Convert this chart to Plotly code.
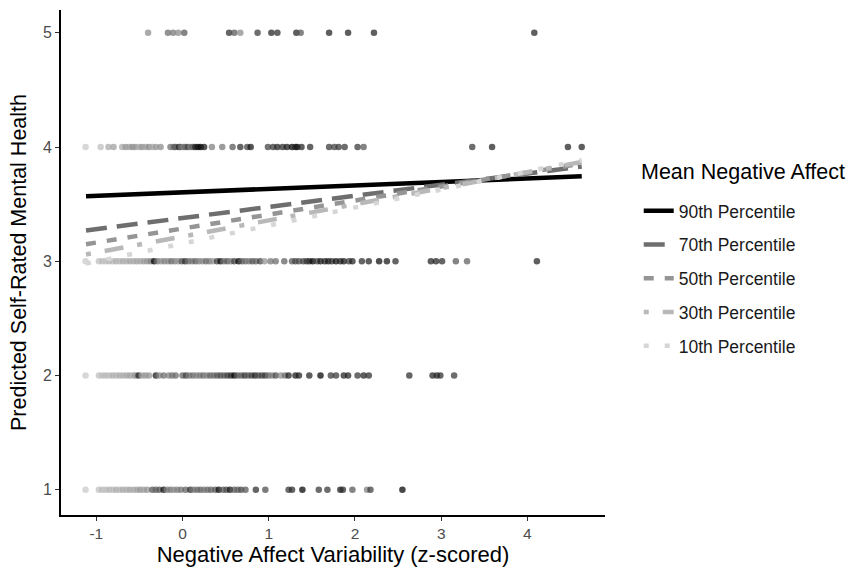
import plotly.graph_objects as go

# ---------------- data ----------------
# observed points per response level: x (z-scored NA variability) and shade (mean NA, 0=low,1=high)
x_lvl5 = [-0.40, -0.17, -0.11, -0.05, 0.02, 0.54, 0.60, 0.67, 0.87, 1.03, 1.10, 1.32, 1.37, 1.70, 1.92, 2.22, 4.08]
s_lvl5 = [0.35, 0.5, 0.45, 0.35, 0.6, 0.8, 0.6, 0.35, 0.75, 0.85, 0.8, 0.85, 0.6, 0.85, 0.85, 0.85, 0.85]

x_lvl4 = [-1.125, -0.95, -0.86, -0.80, -0.70, -0.66, -0.62, -0.58, -0.545, -0.50, -0.47, -0.43, -0.39,
          -0.35, -0.31, -0.255, -0.14, -0.10, -0.08, -0.04, -0.02, 0.01, 0.03, 0.06, 0.09, 0.12, 0.15,
          0.18, 0.21, 0.25, 0.34, 0.46, 0.58, 0.67, 0.75, 0.79, 0.99, 1.05, 1.10, 1.16, 1.21, 1.27,
          1.31, 1.33, 1.38, 1.48, 1.70, 1.76, 1.81, 1.88, 2.03, 2.10, 3.36, 3.59, 4.47, 4.63]
s_lvl4 = [0.05, 0.1, 0.2, 0.25, 0.2, 0.3, 0.25, 0.35, 0.3, 0.2, 0.3, 0.25, 0.35, 0.2, 0.3, 0.35, 0.5,
          0.55, 0.6, 0.85, 0.5, 0.4, 0.5, 0.7, 0.45, 0.6, 0.9, 0.95, 1.0, 0.9, 0.4, 0.45, 0.6, 0.8,
          0.7, 0.9, 0.7, 0.75, 0.85, 0.8, 0.9, 1.0, 0.85, 0.95, 0.85, 0.8, 0.75, 0.7, 0.75, 0.75,
          0.75, 0.6, 0.75, 0.85, 0.85, 0.85]

x_lvl3 = [-1.125, -0.97, -0.93, -0.89, -0.85, -0.81, -0.77, -0.73, -0.69, -0.65, -0.61, -0.57, -0.53,
          -0.49, -0.45, -0.41, -0.37, -0.33, -0.29, -0.25, -0.21, -0.17, -0.13, -0.09, -0.05, -0.01,
          0.03, 0.07, 0.11, 0.15, 0.19, 0.23, 0.27, 0.31, 0.35, 0.40, 0.44, 0.48, 0.52, 0.56, 0.60,
          0.65, 0.69, 0.73, 0.77, 0.81, 0.85, 0.90, 0.95, 1.02, 1.08, 1.18, 1.27, 1.31, 1.35, 1.40,
          1.44, 1.47, 1.51, 1.56, 1.60, 1.65, 1.69, 1.73, 1.78, 1.83, 1.87, 1.93, 1.97, 2.08, 2.16,
          2.28, 2.37, 2.47, 2.88, 2.94, 3.01, 3.17, 3.30, 4.11]
s_lvl3 = [0.05, 0.1, 0.12, 0.1, 0.15, 0.12, 0.18, 0.15, 0.2, 0.18, 0.22, 0.2, 0.25, 0.22, 0.28, 0.3,
          0.4, 1.0, 0.45, 0.3, 0.4, 0.35, 0.5, 0.4, 0.3, 0.6, 0.8, 0.5, 0.45, 0.55, 0.4, 0.35, 0.5,
          0.45, 0.3, 0.7, 0.95, 0.5, 0.6, 0.4, 0.7, 1.0, 0.6, 0.5, 0.45, 0.6, 0.55, 0.7, 0.3, 0.45,
          0.5, 0.55, 0.6, 0.7, 0.65, 0.7, 0.75, 0.8, 1.0, 0.7, 0.9, 0.85, 0.9, 0.8, 0.95, 0.85, 0.9,
          0.75, 0.85, 0.8, 0.85, 0.95, 0.9, 0.8, 0.85, 0.85, 0.8, 0.6, 0.55, 0.85]

x_lvl2 = [-1.125, -0.97, -0.93, -0.89, -0.85, -0.81, -0.77, -0.73, -0.69, -0.65, -0.61, -0.57, -0.545,
          -0.51, -0.47, -0.43, -0.39, -0.31, -0.27, -0.22, -0.16, -0.12, -0.08, 0.00, 0.04, 0.08, 0.12,
          0.16, 0.20, 0.24, 0.28, 0.32, 0.36, 0.40, 0.44, 0.48, 0.52, 0.56, 0.60, 0.64, 0.68, 0.72,
          0.76, 0.80, 0.84, 0.88, 0.92, 0.96, 1.00, 1.04, 1.08, 1.14, 1.19, 1.23, 1.31, 1.35, 1.47,
          1.60, 1.72, 1.78, 1.87, 1.92, 2.03, 2.10, 2.16, 2.63, 2.90, 2.95, 2.99, 3.15]
s_lvl2 = [0.05, 0.1, 0.12, 0.15, 0.12, 0.18, 0.15, 0.2, 0.18, 0.22, 0.25, 0.2, 0.3, 0.85, 0.25, 0.3,
          0.3, 0.9, 0.35, 0.5, 0.4, 0.45, 0.5, 0.55, 0.7, 0.45, 0.5, 0.4, 0.45, 0.5, 0.4, 0.55, 0.5,
          0.6, 0.65, 0.6, 0.7, 0.8, 1.0, 0.6, 0.55, 0.75, 0.6, 0.7, 0.85, 0.65, 0.7, 0.75, 0.5, 0.4,
          0.65, 0.35, 0.5, 0.85, 0.9, 0.85, 0.85, 1.0, 0.75, 0.75, 0.85, 0.85, 0.75, 0.85, 0.8, 0.8,
          0.85, 0.85, 0.8, 0.75]

x_lvl1 = [-1.125, -0.97, -0.93, -0.89, -0.85, -0.81, -0.77, -0.73, -0.69, -0.65, -0.61, -0.57, -0.53,
          -0.49, -0.45, -0.41, -0.35, -0.31, -0.27, -0.22, -0.18, -0.14, -0.10, -0.06, -0.02, 0.035,
          0.09, 0.13, 0.17, 0.21, 0.25, 0.29, 0.33, 0.38, 0.42, 0.47, 0.51, 0.55, 0.60, 0.64, 0.68,
          0.73, 0.85, 0.96, 1.23, 1.27, 1.39, 1.58, 1.68, 1.83, 1.86, 1.97, 2.14, 2.18, 2.55]
s_lvl1 = [0.05, 0.1, 0.12, 0.1, 0.15, 0.12, 0.18, 0.15, 0.2, 0.18, 0.22, 0.2, 0.25, 0.3, 0.25, 0.3,
          0.6, 0.55, 0.6, 0.95, 0.4, 0.45, 0.35, 0.4, 0.45, 0.55, 0.8, 0.45, 0.5, 0.55, 0.45, 0.5,
          0.55, 0.6, 0.95, 0.6, 0.65, 0.9, 0.6, 0.55, 0.65, 0.6, 0.8, 0.65, 0.75, 0.8, 1.0, 0.75,
          0.75, 0.9, 0.8, 0.6, 0.4, 0.7, 1.0]

levels = [1, 2, 3, 4, 5]
x_by_level = [x_lvl1, x_lvl2, x_lvl3, x_lvl4, x_lvl5]
s_by_level = [s_lvl1, s_lvl2, s_lvl3, s_lvl4, s_lvl5]

# predicted lines (start / end of fitted slope per percentile)
legend_title = "Mean Negative Affect"
line_names = ["90th Percentile", "70th Percentile", "50th Percentile", "30th Percentile", "10th Percentile"]
line_x = [-1.12, 4.63]
line_y90 = [3.57, 3.745]
line_y70 = [3.27, 3.83]
line_y50 = [3.15, 3.855]
line_y30 = [3.06, 3.87]
line_y10 = [2.98, 3.885]
line_ys = [line_y90, line_y70, line_y50, line_y30, line_y10]

x_ticks = [-1, 0, 1, 2, 3, 4]
y_ticks = [1, 2, 3, 4, 5]

# ---------------- styling ----------------
line_colors = ["#000000", "#6e6e6e", "#959595", "#b8b8b8", "#d6d6d6"]
line_dashes = ["solid", "21px,10px", "10px,11px", "5px,14px,19px,14px", "5px,16px"]
FONT = "Liberation Sans, Arial, Helvetica, sans-serif"

fig = go.Figure()

for lvl, xs, ss in zip(levels, x_by_level, s_by_level):
    fig.add_trace(go.Scatter(
        x=xs, y=[lvl] * len(xs), mode="markers", showlegend=False, hoverinfo="skip",
        marker=dict(size=6.5, color=ss, cmin=0, cmax=1,
                    colorscale=[[0, "#d2d2d2"], [1, "#000000"]],
                    opacity=0.72, line=dict(width=0)),
    ))

for i, (name, ys) in enumerate(zip(line_names, line_ys)):
    fig.add_trace(go.Scatter(
        x=line_x, y=ys, mode="lines", name=name, legendgroup=name,
        line=dict(color=line_colors[i], width=4.5, dash=line_dashes[i]),
    ))

fig.add_annotation(
    text=legend_title, xref="paper", yref="paper", x=1.0625, y=0.679,
    xanchor="left", yanchor="middle", showarrow=False,
    font=dict(size=21.5, color="#000000"),
)

fig.update_layout(
    width=860, height=567,
    margin=dict(l=61, r=255, t=10, b=52, autoexpand=False),
    paper_bgcolor="white", plot_bgcolor="white",
    font=dict(family=FONT, color="#000000"),
    showlegend=True,
    legend=dict(
        x=1.062, y=0.638, xanchor="left", yanchor="top",
        font=dict(size=17.5, color="#1a1a1a"),
        tracegroupgap=8, itemwidth=30,
        bgcolor="rgba(0,0,0,0)",
    ),
    xaxis=dict(
        range=[-1.41, 4.9], tickvals=x_ticks, ticktext=[str(v) for v in x_ticks],
        showgrid=False, zeroline=False,
        showline=True, linecolor="#000000", linewidth=1.6,
        ticks="outside", ticklen=4, tickwidth=1.3, tickcolor="#333333",
        tickfont=dict(size=15.5, color="#4d4d4d"),
        title=dict(text="Negative Affect Variability (z-scored)", font=dict(size=22, color="#000000"), standoff=1),
    ),
    yaxis=dict(
        range=[0.78, 5.2], tickvals=y_ticks, ticktext=[str(v) for v in y_ticks],
        showgrid=False, zeroline=False,
        showline=True, linecolor="#000000", linewidth=1.6,
        ticks="outside", ticklen=4, tickwidth=1.3, tickcolor="#333333",
        tickfont=dict(size=16, color="#4d4d4d"),
        title=dict(text="Predicted Self-Rated Mental Health", font=dict(size=21.5, color="#000000"), standoff=11),
    ),
)

fig.write_html("out.html", config={"displayModeBar": False},
               post_script="document.body.style.margin='0px';")
